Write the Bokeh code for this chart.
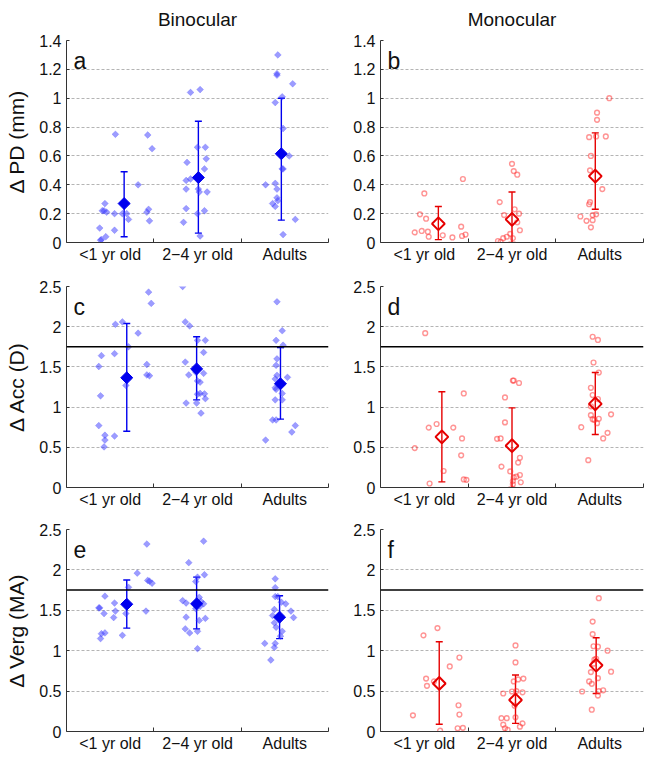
import numpy as np
from bokeh.plotting import figure
from bokeh.layouts import column, row
from bokeh.models import (Range1d, FixedTicker, CustomJSTickFormatter, Span, Label,
                          Whisker, TeeHead, ColumnDataSource)
from bokeh.embed import file_html
from bokeh.resources import INLINE

GROUPS = ["<1 yr old", "2\u22124 yr old", "Adults"]
GROUP_POS = [1, 2, 3]
FONT = "Liberation Sans"

# ---- panel a : Binocular, delta PD (mm)
A_X = [0.88, 0.89, 0.90, 0.95, 0.91, 0.94, 0.93, 0.96, 1.05, 1.05, 1.06, 1.14, 1.19, 1.21, 1.32, 1.43, 1.44, 1.42, 1.45, 1.48,
       1.92, 2.03, 1.84, 1.87, 1.87, 1.87, 1.92, 1.88, 2.00, 2.00, 2.01, 2.02, 2.03, 2.08, 2.09, 2.10, 2.11, 2.08,
       2.92, 2.91, 2.91, 3.09, 2.97, 2.89, 2.98, 2.78, 2.89, 2.91, 2.91, 2.86, 2.89, 2.97, 2.98, 3.05, 3.12, 2.98, 2.92]
A_Y = [0.10, 0.016, 0.02, 0.04, 0.22, 0.27, 0.22, 0.21, 0.085, 0.20, 0.75, 0.20, 0.20, 0.16, 0.40, 0.745, 0.23, 0.21, 0.15, 0.65,
       1.04, 1.06, 0.14, 0.235, 0.37, 0.43, 0.44, 0.555, 0.66, 0.20, 0.37, 0.35, 0.045, 0.51, 0.66, 0.58, 0.35, 0.22,
       1.30, 1.17, 1.16, 1.10, 1.01, 0.97, 0.79, 0.40, 0.41, 0.37, 0.31, 0.27, 0.25, 0.51, 0.51, 0.60, 0.16, 0.055, 0.29]
A_MX = [1.16, 2.01, 2.96]
A_MEAN = [0.27, 0.45, 0.615]
A_LO = [0.04, 0.065, 0.155]
A_HI = [0.49, 0.84, 1.0]

# ---- panel b : Monocular, delta PD (mm)
B_X = [0.89, 0.97, 1.04, 1.05, 0.95, 1.02, 1.00, 1.21, 1.32, 1.42, 1.43, 1.47, 1.44,
       1.86, 1.91, 1.84, 1.87, 1.90, 1.94, 2.00, 2.02, 2.06, 2.03, 2.08, 2.09, 1.98, 2.01, 2.06,
       2.78, 2.85, 2.90, 2.89, 2.88, 2.90, 2.88, 2.96, 2.97, 2.97, 3.07, 3.11, 3.03, 2.92, 2.96, 2.92, 2.89]
B_Y = [0.07, 0.08, 0.075, 0.04, 0.195, 0.165, 0.34, 0.05, 0.035, 0.11, 0.045, 0.055, 0.44,
       0.28, 0.19, 0.01, 0.005, 0.03, 0.04, 0.545, 0.495, 0.47, 0.23, 0.20, 0.085, 0.06, 0.03, 0.14,
       0.18, 0.15, 0.105, 0.28, 0.265, 0.60, 0.73, 0.735, 0.85, 0.90, 0.735, 1.00, 0.37, 0.19, 0.195, 0.155, 0.50]
B_MX = [1.16, 2.00, 2.95]
B_MEAN = [0.13, 0.16, 0.46]
B_LO = [0.02, 0.0, 0.23]
B_HI = [0.25, 0.35, 0.76]

# ---- panel c : Binocular, delta Acc (D)
C_X = [0.87, 0.90, 0.89, 0.87, 0.94, 0.94, 0.93, 1.05, 1.05, 1.06, 1.14, 1.21, 1.18, 1.32, 1.42, 1.42, 1.45, 1.44, 1.47,
       1.83, 1.86, 1.91, 1.86, 1.90, 1.87, 2.00, 2.09, 2.07, 1.98, 2.00, 2.03, 2.07, 2.00, 2.03, 2.08, 2.09, 2.04, 1.99,
       2.91, 2.97, 2.90, 2.98, 2.91, 2.90, 2.91, 2.89, 3.03, 2.89, 2.90, 2.97, 2.97, 2.89, 2.86, 2.90, 3.08, 3.12, 2.78]
C_Y = [1.505, 1.64, 1.14, 0.77, 0.65, 0.59, 0.505, 1.665, 0.64, 2.03, 2.06, 1.75, 1.27, 1.92, 1.53, 1.40, 1.39, 2.43, 2.29,
       2.50, 2.06, 2.01, 1.56, 1.40, 1.05, 1.83, 1.83, 1.68, 1.435, 1.325, 1.31, 1.42, 1.16, 1.17, 1.165, 1.105, 0.925, 1.05,
       2.31, 1.95, 1.83, 1.77, 1.60, 1.52, 1.395, 1.35, 1.37, 1.24, 1.22, 1.17, 1.09, 1.09, 0.84, 0.84, 0.69, 0.77, 0.59]
C_MX = [1.19, 1.99, 2.95]
C_MEAN = [1.365, 1.475, 1.29]
C_LO = [0.70, 1.09, 0.85]
C_HI = [2.04, 1.875, 1.74]

# ---- panel d : Monocular, delta Acc (D)
D_X = [0.89, 1.01, 1.05, 1.14, 1.06, 1.22, 1.33, 1.43, 1.42, 1.45, 1.45, 1.48,
       1.83, 1.87, 1.92, 1.92, 1.88, 1.98, 2.01, 2.02, 2.08, 2.09, 2.07, 2.01, 2.02, 2.05, 2.09, 2.10, 2.01,
       2.79, 2.87, 2.92, 2.98, 2.93, 2.99, 2.90, 2.92, 2.98, 2.90, 2.90, 2.92, 2.94, 2.99, 2.97, 3.13, 3.09, 3.04]
D_Y = [0.49, 1.92, 0.745, 0.79, 0.05, 0.205, 0.745, 0.61, 0.40, 1.17, 0.10, 0.095,
       0.605, 0.61, 1.12, 0.81, 0.26, 0.20, 1.33, 1.33, 1.30, 0.37, 0.31, 0.04, 0.125, 0.135, 0.155, 0.065, 0.08,
       0.75, 0.34, 1.875, 1.835, 1.555, 1.43, 1.24, 1.15, 1.10, 1.01, 0.90, 0.85, 0.84, 0.855, 0.80, 0.91, 0.68, 0.61]
D_MX = [1.20, 2.00, 2.95]
D_MEAN = [0.63, 0.52, 1.04]
D_LO = [0.07, 0.0, 0.66]
D_HI = [1.19, 0.99, 1.43]

# ---- panel e : Binocular, delta Verg (MA)
E_X = [0.87, 0.88, 0.94, 0.93, 0.90, 0.89, 0.94, 1.05, 1.06, 1.04, 1.14, 1.18, 1.21, 1.31, 1.42, 1.43, 1.45, 1.48, 1.41,
       1.90, 2.07, 2.08, 1.83, 1.87, 1.87, 1.86, 1.91, 1.98, 2.00, 2.02, 1.98, 2.03, 2.07, 2.00, 2.02, 2.09, 2.00, 2.04,
       2.89, 2.89, 2.89, 2.92, 2.96, 2.88, 3.01, 3.07, 3.10, 2.86, 2.88, 2.90, 2.97, 2.95, 2.89, 2.88, 2.77, 2.84]
E_Y = [1.53, 1.53, 1.675, 1.46, 1.21, 1.15, 1.22, 1.59, 1.49, 1.41, 1.19, 1.46, 1.785, 1.96, 2.32, 1.87, 1.86, 1.835, 1.49,
       2.09, 2.355, 1.94, 1.62, 1.59, 1.415, 1.27, 1.22, 1.855, 1.91, 1.66, 1.52, 1.55, 1.58, 1.24, 1.375, 1.40, 1.025, 1.61,
       1.89, 1.78, 1.67, 1.67, 1.60, 1.51, 1.58, 1.49, 1.41, 1.435, 1.345, 1.29, 1.24, 1.18, 1.09, 1.04, 1.09, 0.885]
E_MX = [1.19, 1.99, 2.94]
E_MEAN = [1.575, 1.58, 1.415]
E_LO = [1.28, 1.27, 1.15]
E_HI = [1.875, 1.91, 1.68]

# ---- panel f : Monocular, delta Verg (MA)
F_X = [0.87, 0.99, 1.15, 1.02, 1.03, 1.11, 1.29, 1.40, 1.39, 1.40, 1.38, 1.44, 1.18,
       1.88, 1.94, 1.90, 1.90, 1.92, 1.95, 2.04, 2.04, 2.02, 2.05, 2.00, 2.07, 2.13, 2.12, 2.04, 2.09, 2.12, 2.03,
       2.80, 2.91, 2.99, 2.92, 2.92, 2.93, 2.98, 3.09, 2.94, 2.96, 2.90, 2.88, 2.91, 2.98, 2.99, 3.04, 2.98, 3.13, 2.93]
F_Y = [0.20, 1.19, 1.28, 0.655, 0.565, 0.62, 0.805, 0.915, 0.325, 0.21, 0.04, 0.045, 0.01,
       0.165, 0.165, 0.47, 0.085, 0.04, 0.02, 1.065, 0.855, 0.62, 0.50, 0.495, 0.645, 0.655, 0.485, 0.175, 0.06, 0.10, 0.32,
       0.495, 0.27, 1.65, 1.36, 1.205, 1.055, 1.05, 1.00, 0.89, 0.90, 0.735, 0.62, 0.59, 0.66, 0.50, 0.51, 0.445, 0.74, 0.84]
F_MX = [1.17, 2.04, 2.96]
F_MEAN = [0.595, 0.39, 0.82]
F_LO = [0.09, 0.10, 0.47]
F_HI = [1.11, 0.70, 1.16]

YT_PD = [0, 0.2, 0.4, 0.6, 0.8, 1.0, 1.2, 1.4]
YT_25 = [0, 0.5, 1.0, 1.5, 2.0, 2.5]
REF_LINE = 1.75

BLUE = "#0000ee"
RED = "#e60000"


def make_panel(xs, ys, mx, mean, lo, hi, letter, yticks, ymax, binocular,
               width, height, bl, br, bt, bb, ylabel=None, title=None, ref=None):
    p = figure(width=width, height=height, output_backend="svg", toolbar_location=None,
               x_range=Range1d(0.5, 3.5), y_range=Range1d(0, ymax),
               min_border_left=bl, min_border_right=br, min_border_top=bt, min_border_bottom=bb)
    p.outline_line_color = None
    p.background_fill_color = "white"
    p.border_fill_color = "white"
    if title:
        p.title.text = title
        p.title.align = "center"
        p.title.vertical_align = "top"
        p.title.text_font = FONT
        p.title.text_font_size = "19px"
        p.title.text_font_style = "normal"
        p.title.text_color = "#111111"
        p.title.standoff = 17
    p.xgrid.grid_line_color = None
    p.ygrid.grid_line_color = "#b4b4b4"
    p.ygrid.grid_line_dash = "3 2"
    p.ygrid.grid_line_width = 1

    p.xaxis.ticker = FixedTicker(ticks=GROUP_POS, minor_ticks=[1.5, 2.5, 3.5])
    p.xaxis.major_label_overrides = {1: GROUPS[0], 2: GROUPS[1], 3: GROUPS[2]}
    p.xaxis.major_tick_in = 0
    p.xaxis.major_tick_out = 0
    p.xaxis.minor_tick_in = 4
    p.xaxis.minor_tick_out = 0
    p.xaxis.major_label_standoff = 3
    p.yaxis.ticker = FixedTicker(ticks=yticks)
    p.yaxis.formatter = CustomJSTickFormatter(code="return String(Math.round(tick*10)/10)")
    p.yaxis.major_tick_in = 3
    p.yaxis.major_tick_out = 0
    p.yaxis.minor_tick_line_color = None
    p.yaxis.major_label_standoff = 5
    for ax in (p.xaxis[0], p.yaxis[0]):
        ax.axis_line_color = "#333333"
        ax.major_tick_line_color = "#333333"
        ax.minor_tick_line_color = "#333333" if ax is p.xaxis[0] else None
        ax.major_label_text_font = FONT
        ax.major_label_text_font_size = "16px"
        ax.major_label_text_color = "#111111"
    if ylabel:
        p.yaxis.axis_label = ylabel
        p.yaxis.axis_label_text_font = FONT
        p.yaxis.axis_label_text_font_size = "21px"
        p.yaxis.axis_label_text_font_style = "normal"
        p.yaxis.axis_label_text_color = "#111111"
        p.yaxis.axis_label_standoff = 8

    if ref is not None:
        p.add_layout(Span(location=ref, dimension="width", line_color="black", line_width=1.5))

    if binocular:
        p.scatter(xs, ys, marker="square", angle=np.pi / 4, size=4.8,
                  fill_color="#3a3aff", fill_alpha=0.5, line_color="#3a3aff", line_alpha=0.4, line_width=0.6)
        col = BLUE
    else:
        p.scatter(xs, ys, marker="circle", size=4.8, fill_color=None,
                  line_color="#ff2a2a", line_alpha=0.5, line_width=1.4)
        col = RED

    src = ColumnDataSource(dict(x=mx, m=mean, lo=lo, hi=hi))
    w = Whisker(base="x", lower="lo", upper="hi", source=src, dimension="height",
                line_color=col, line_width=1.4,
                upper_head=TeeHead(size=7, line_color=col, line_width=1.4),
                lower_head=TeeHead(size=7, line_color=col, line_width=1.4))
    p.add_layout(w)
    if binocular:
        p.scatter("x", "m", source=src, marker="square", angle=np.pi / 4, size=8.5,
                  fill_color=col, line_color=col, line_width=1)
    else:
        p.scatter("x", "m", source=src, marker="square", angle=np.pi / 4, size=9,
                  fill_color=None, line_color=col, line_width=2)

    p.add_layout(Label(x=0.5, y=ymax, x_offset=7, y_offset=-20, text=letter,
                       text_font=FONT, text_font_size="23px", text_color="#111111",
                       text_baseline="alphabetic"))
    return p


LW, LBL, LBR = 330, 66, 2
RW, RBL, RBR = 316, 50, 3

pa = make_panel(A_X, A_Y, A_MX, A_MEAN, A_LO, A_HI, "a", YT_PD, 1.4, True,
                LW, 268, LBL, LBR, 40, 26, ylabel="\u0394 PD (mm)", title="Binocular")
pb = make_panel(B_X, B_Y, B_MX, B_MEAN, B_LO, B_HI, "b", YT_PD, 1.4, False,
                RW, 268, RBL, RBR, 40, 26, title="Monocular")
pc = make_panel(C_X, C_Y, C_MX, C_MEAN, C_LO, C_HI, "c", YT_25, 2.5, True,
                LW, 242, LBL, LBR, 18, 22, ylabel="\u0394 Acc (D)", ref=REF_LINE)
pd_ = make_panel(D_X, D_Y, D_MX, D_MEAN, D_LO, D_HI, "d", YT_25, 2.5, False,
                 RW, 242, RBL, RBR, 18, 22, ref=REF_LINE)
pe = make_panel(E_X, E_Y, E_MX, E_MEAN, E_LO, E_HI, "e", YT_25, 2.5, True,
                LW, 245, LBL, LBR, 19, 24, ylabel="\u0394 Verg (MA)", ref=REF_LINE)
pf = make_panel(F_X, F_Y, F_MX, F_MEAN, F_LO, F_HI, "f", YT_25, 2.5, False,
                RW, 245, RBL, RBR, 19, 24, ref=REF_LINE)

layout = column(row(pa, pb), row(pc, pd_), row(pe, pf))

open("out.html", "w").write(file_html(layout, INLINE))
